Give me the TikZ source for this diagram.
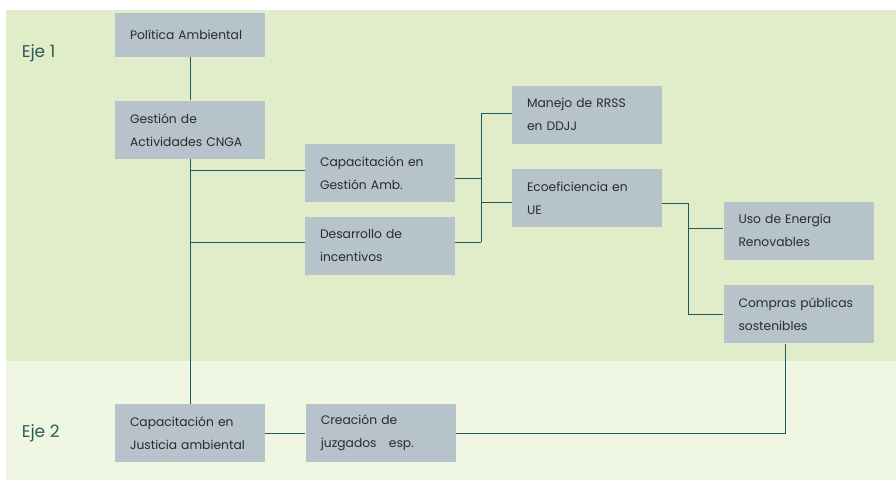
\documentclass[tikz,border=0pt]{standalone}
\usepackage{fontspec}
\setmainfont{Poppins}
\usepackage{tikz}
\usetikzlibrary{positioning}
\definecolor{bandone}{HTML}{E1ECC9}
\definecolor{bandtwo}{HTML}{EFF6E2}
\definecolor{boxfill}{HTML}{B6C3CB}
\definecolor{linkcol}{HTML}{1E5B5E}
\definecolor{ejecol}{HTML}{285C5C}
\definecolor{txtcol}{HTML}{2B2B2B}
\begin{document}
\begin{tikzpicture}[x=1pt,y=-1pt,node distance=40pt,
		line width=0.9pt]
		\tikzstyle{item}=[rectangle,fill=boxfill,text=txtcol,inner xsep=15pt,inner ysep=0pt,
			text width=120pt,align=left,minimum height=58pt,
			font=\fontsize{12.3}{23}\selectfont]
		\tikzstyle{eje}=[anchor=west,text=ejecol,font=\fontsize{17}{20}\selectfont]
		\tikzstyle{link}=[draw=linkcol]
		\useasboundingbox (0,0) rectangle (896,480);
		\fill[bandone] (6,10) rectangle (896,361);
		\fill[bandtwo] (6,361) rectangle (896,480);
		\node[eje]  (ejeA) at (18,53)  {Eje 1};
		\node[eje]  (ejeB) at (18,433) {Eje 2};
		\node[item,minimum height=44pt] (pol)  at (190,35)    {Política Ambiental};
		\node[item]         (gest) [below=43pt of pol]    {Gestión de\\Actividades CNGA};
		\node[item]         (capga)  at (380,173)         {Capacitación en\\Gestión Amb.};
		\node[item]         (des)  [below=14pt of capga]  {Desarrollo de\\incentivos};
		\node[item]         (rrss) at (587,114.5)         {Manejo de RRSS\\en DDJJ};
		\node[item]         (eco)  [below=25pt of rrss]   {Ecoeficiencia en\\UE};
		\node[item]         (ener) at (798.5,230.5)       {Uso de Energía\\Renovables};
		\node[item]         (comp) [below=25pt of ener]   {Compras públicas\\sostenibles};
		\node[item]         (capj) at (190,433)           {Capacitación en\\Justicia ambiental};
		\node[item]         (juz)  [right=of capj]        {Creación de\\juzgados \ \ esp.};
		\coordinate (ja) at (481,0);
		\coordinate (jb) at (688,0);
		\path[link] (pol) edge (gest)
		      (gest) edge (capj)
		      ([yshift=3pt]capga.west) edge ([yshift=3pt]capga.west -| gest.south)
		      ([yshift=3.5pt]des.west) edge ([yshift=3.5pt]des.west -| gest.south)
		      ([yshift=-5pt]capga.east) edge ([yshift=-5pt]capga.east -| ja)
		      ([yshift=3.5pt]des.east) edge ([yshift=3.5pt]des.east -| ja)
		      ([yshift=1.5pt]rrss.west -| ja) edge ([yshift=3.5pt]des.east -| ja)
		      ([yshift=1.5pt]rrss.west) edge ([yshift=1.5pt]rrss.west -| ja)
		      ([yshift=-4pt]eco.west) edge ([yshift=-4pt]eco.west -| ja)
		      ([yshift=-5pt]eco.east) edge ([yshift=-5pt]eco.east -| jb)
		      ([yshift=-5pt]eco.east -| jb) edge (comp.west -| jb)
		      ([yshift=2.5pt]ener.west) edge ([yshift=2.5pt]ener.west -| jb)
		      (comp.west) edge (comp.west -| jb)
		      (capj) edge (juz);
		\draw[link] (juz.east) -| ([xshift=-13.5pt]comp.south);
	\end{tikzpicture}
\end{document}
